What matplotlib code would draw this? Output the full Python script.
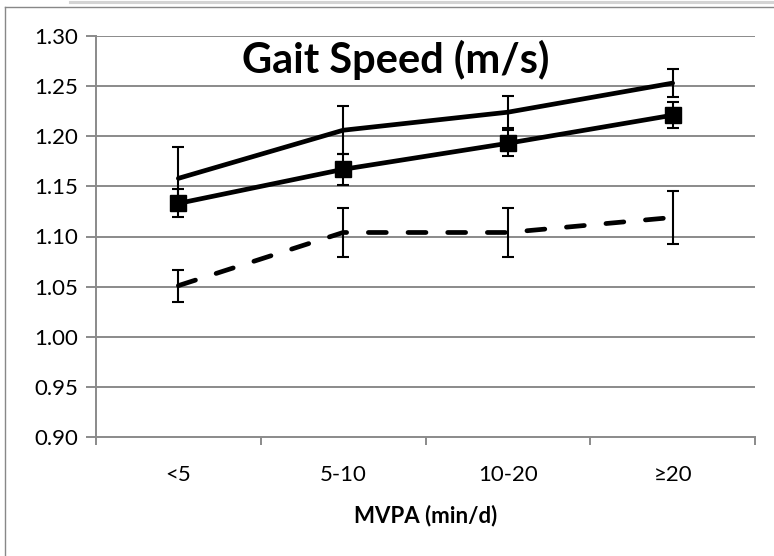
import matplotlib
matplotlib.use("Agg")
import matplotlib.pyplot as plt
from matplotlib.lines import Line2D

categories = ["<5", "5-10", "10-20", "≥20"]
top_vals = [1.158, 1.206, 1.224, 1.253]
top_err = [0.031, 0.024, 0.016, 0.014]
sq_vals = [1.133, 1.167, 1.193, 1.221]
sq_err = [0.014, 0.0155, 0.013, 0.013]
dash_vals = [1.051, 1.104, 1.104, 1.119]
dash_err = [0.016, 0.024, 0.024, 0.026]
yticks = [0.90, 0.95, 1.00, 1.05, 1.10, 1.15, 1.20, 1.25, 1.30]

plt.rcParams['font.family'] = ['Lato', 'DejaVu Sans']

fig = plt.figure(figsize=(7.74, 5.56), dpi=100)
ax = fig.add_axes([96/774, 1-437/556, 659/774, 401/556])

x = list(range(len(categories)))
grid_c = "#8a8a8a"

ax.set_xlim(-0.5, len(categories) - 0.5)
ax.set_ylim(0.90, 1.30)
ax.set_yticks(yticks)
ax.set_yticklabels([f"{v:.2f}" for v in yticks])
for v in yticks[1:]:
    ax.axhline(v, color=grid_c, lw=1.4, zorder=0)

ekw = dict(fmt="none", ecolor="black", elinewidth=1.5, capsize=4, capthick=1.5, zorder=2)
ax.errorbar(x, top_vals, yerr=top_err, **ekw)
ax.errorbar(x, sq_vals, yerr=sq_err, **ekw)
ax.errorbar(x, dash_vals, yerr=dash_err, **ekw)

ax.plot(x, top_vals, color="black", lw=3.4, solid_capstyle="round", solid_joinstyle="round", zorder=3)
ax.plot(x, sq_vals, color="black", lw=3.4, marker="s", markersize=11, zorder=3,
        solid_joinstyle="round")
ax.plot(x, dash_vals, color="black", lw=3.4, linestyle=(0, (3.8, 4.6)),
        dash_capstyle="round", zorder=3)

ax.set_xticks([i + 0.5 for i in range(-1, len(categories))])
ax.set_xticklabels([])
ax.set_xticks(x, minor=True)
ax.set_xticklabels(categories, minor=True, fontsize=16)
ax.tick_params(axis="x", which="minor", length=0, pad=20)
ax.tick_params(axis="x", which="major", length=6, color=grid_c, width=1.4)
ax.tick_params(axis="y", length=7, color=grid_c, width=1.4, labelsize=16, pad=6)

for s in ["top", "right"]:
    ax.spines[s].set_visible(False)
for s in ["left", "bottom"]:
    ax.spines[s].set_color(grid_c)
    ax.spines[s].set_linewidth(1.4)

ax.set_xlabel("MVPA (min/d)", fontsize=16, fontweight="bold", labelpad=14)
ax.text(0.455, 0.94, "Gait Speed (m/s)", transform=ax.transAxes, ha="center", va="center",
        fontsize=30, fontweight="bold")

# figure decorations (frame)
fig.add_artist(Line2D([70/774, 1], [1-1.5/556, 1-1.5/556], color="#d4d4d4", lw=2.2,
                      transform=fig.transFigure))
fig.add_artist(Line2D([5/774, 1], [1-6.5/556, 1-6.5/556], color="#888888", lw=1,
                      transform=fig.transFigure))
fig.add_artist(Line2D([5/774, 5/774], [0, 1-6.5/556], color="#888888", lw=1,
                      transform=fig.transFigure))

fig.savefig("out.png", dpi=100)
